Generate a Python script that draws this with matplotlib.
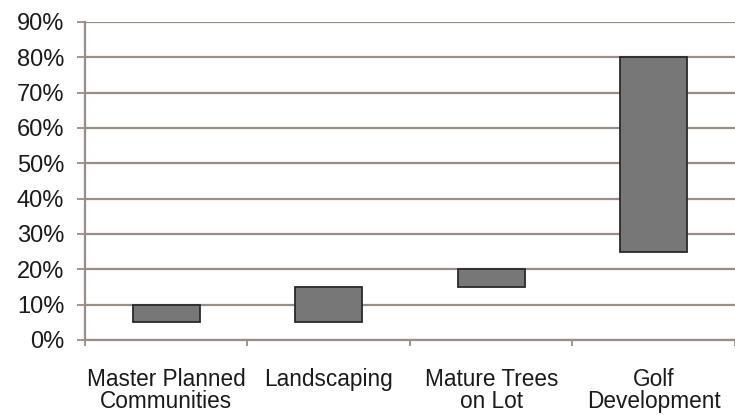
import matplotlib.pyplot as plt
from matplotlib.ticker import FixedLocator, PercentFormatter

# Range of each category, in percent
categories = ['Master Planned\nCommunities', 'Landscaping', 'Mature Trees\non Lot', 'Golf\nDevelopment']
low = [5, 5, 15, 25]
high = [10, 15, 20, 80]

plt.rcParams['font.family'] = ['Liberation Sans', 'DejaVu Sans']

fig = plt.figure(figsize=(7.35, 4.15), dpi=100)
ax = fig.add_axes([0.1156, 0.181, 0.8844, 0.766])

positions = range(len(categories))
heights = [h - l for l, h in zip(low, high)]
ax.bar(positions, heights, bottom=low, width=0.41, color='#777777',
       edgecolor='#2a2a2a', linewidth=1.3, zorder=3)

ax.set_ylim(0, 90)
ax.set_xlim(-0.5, len(categories) - 0.5)
ax.set_yticks(range(0, 91, 10))
ax.yaxis.set_major_formatter(PercentFormatter(decimals=0))
ax.grid(axis='y', color='#9a8c87', linewidth=1.6, zorder=0)

ax.set_xticks(list(positions))
ax.set_xticklabels(categories, fontsize=16.3, color='#1a1a1a', linespacing=0.95)
ax.xaxis.set_minor_locator(FixedLocator([i - 0.5 for i in range(len(categories) + 1)]))
ax.tick_params(axis='x', which='major', length=0, pad=20)
ax.tick_params(axis='x', which='minor', length=4, color='#9a8c87', width=1.3)
ax.tick_params(axis='y', length=6, color='#9a8c87', width=1.3, labelsize=17,
               labelcolor='#1a1a1a', pad=9)

for side in ['top', 'right']:
    ax.spines[side].set_visible(False)
for side in ['left', 'bottom']:
    ax.spines[side].set_color('#9a8c87')
    ax.spines[side].set_linewidth(1.6)

plt.savefig('out.png', dpi=100)
